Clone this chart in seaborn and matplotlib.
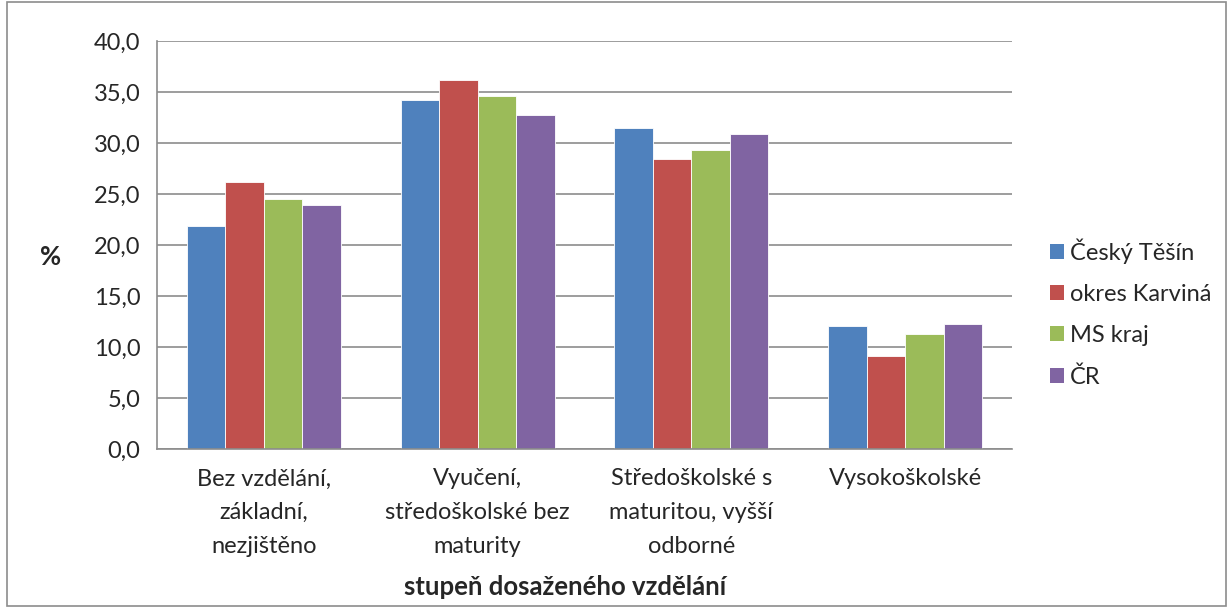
import numpy as np
import pandas as pd
import seaborn as sns
import matplotlib.pyplot as plt
from matplotlib.patches import Rectangle, Patch
from matplotlib.ticker import FuncFormatter, FixedLocator

categories = ["Bez vzdělání,\nzákladní,\nnezjištěno",
              "Vyučení,\nstředoškolské bez\nmaturity",
              "Středoškolské s\nmaturitou, vyšší\nodborné",
              "Vysokoškolské"]
series = ["Český Těšín", "okres Karviná", "MS kraj", "ČR"]
cesky_tesin = [21.9, 34.2, 31.5, 12.1]
okres_karvina = [26.2, 36.2, 28.4, 9.1]
ms_kraj = [24.5, 34.6, 29.3, 11.3]
cr = [23.9, 32.7, 30.9, 12.3]
colors = ["#4F81BD", "#C0504D", "#9BBB59", "#8064A2"]

df = pd.DataFrame({
    "kategorie": categories * 4,
    "oblast": np.repeat(series, 4),
    "hodnota": cesky_tesin + okres_karvina + ms_kraj + cr,
})

sns.set_style("white")
plt.rcParams["font.family"] = ["Lato", "DejaVu Sans"]

fig = plt.figure(figsize=(12.27, 6.07), dpi=100)
ax = fig.add_axes([157 / 1227, 1 - 449 / 607, (1012 - 157) / 1227, (449 - 41) / 607])

sns.barplot(data=df, x="kategorie", y="hodnota", hue="oblast", order=categories,
            hue_order=series, palette=colors, width=0.72, gap=0, saturation=1,
            edgecolor="white", linewidth=0.6, ax=ax, legend=False, errorbar=None)

ax.set_ylim(0, 40)
ax.set_xlim(-0.5, 3.5)
ax.set_yticks(np.arange(0, 41, 5))
ax.yaxis.set_major_formatter(FuncFormatter(lambda v, p: f"{v:.1f}".replace(".", ",")))
ax.grid(axis="y", color="#8c8c8c", linewidth=1.2)
ax.set_axisbelow(True)
for s in ["top", "right"]:
    ax.spines[s].set_visible(False)
for s in ["left", "bottom"]:
    ax.spines[s].set_color("#8c8c8c")
    ax.spines[s].set_linewidth(1.2)

ax.tick_params(axis="y", length=7, color="#8c8c8c", width=1.2, labelsize=17, pad=5)
ax.tick_params(axis="x", which="major", length=0, labelsize=17, pad=14)
ax.xaxis.set_minor_locator(FixedLocator([-0.5, 0.5, 1.5, 2.5, 3.5]))
ax.tick_params(axis="x", which="minor", length=7, color="#8c8c8c", width=1.2)
for lbl in ax.get_xticklabels():
    lbl.set_linespacing(1.75)

ax.set_xlabel("stupeň dosaženého vzdělání", fontsize=18.5, fontweight="bold")
ax.xaxis.set_label_coords((565 - 157) / 855, -(575 - 449) / 408)
ax.set_ylabel("%", fontsize=18.5, fontweight="bold", rotation=0, va="center", ha="center")
ax.yaxis.set_label_coords((51 - 157) / 855, (449 - 257) / 408)

handles = [Patch(facecolor=c, edgecolor="none") for c in colors]
fig.legend(handles, series, loc="center left", bbox_to_anchor=(1029 / 1227, 1 - 313 / 607),
           frameon=False, fontsize=17, handlelength=0.6, handleheight=0.6,
           handletextpad=0.25, labelspacing=0.85)

fig.patches.append(Rectangle((7 / 1227, 0.002), 1 - 8 / 1227, 0.995, transform=fig.transFigure,
                             fill=False, edgecolor="#8c8c8c", linewidth=1.2))

fig.savefig("out.png", dpi=100)
